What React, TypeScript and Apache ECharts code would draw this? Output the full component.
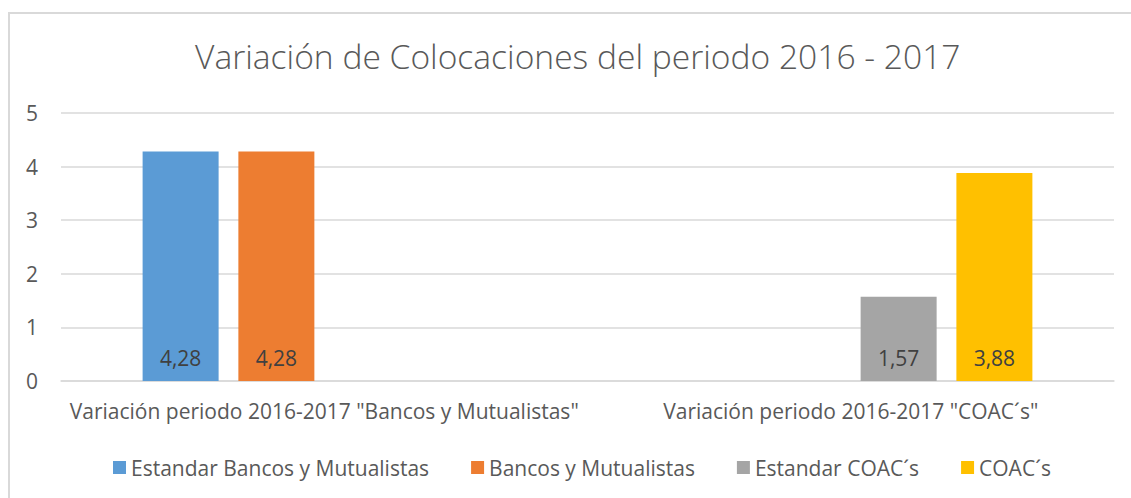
import React, { useEffect, useRef } from "react";
import * as echarts from "echarts";

const titleText = "Variación de Colocaciones del periodo 2016 - 2017";
const categories = [
  'Variación periodo 2016-2017 "Bancos y Mutualistas"',
  'Variación periodo 2016-2017 "COAC´s"',
];
const seriesNames = ["Estandar Bancos y Mutualistas", "Bancos y Mutualistas", "Estandar COAC´s", "COAC´s"];
const estandarBancos = [4.28, null];
const bancos = [4.28, null];
const estandarCoacs = [null, 1.57];
const coacs = [null, 3.88];
const colors = ["#5b9bd5", "#ed7d31", "#a5a5a5", "#ffc000"];

const FONT = "'Open Sans'";

export default function App() {
  const ref = useRef<HTMLDivElement>(null);
  useEffect(() => {
    if (!ref.current) return;
    const chart = echarts.init(ref.current, undefined, { renderer: "svg" });
    const datasets = [estandarBancos, bancos, estandarCoacs, coacs];
    chart.setOption({
      animation: false,
      backgroundColor: "#ffffff",
      textStyle: { fontFamily: FONT },
      title: {
        text: titleText,
        left: 190,
        top: 34,
        textStyle: { fontFamily: FONT, fontSize: 33.6, fontWeight: 300, color: "#595959" },
      },
      graphic: [
        {
          type: "rect",
          shape: { x: 9, y: 13, width: 1140, height: 500 },
          style: { fill: "none", stroke: "#d9d9d9", lineWidth: 2 },
          silent: true,
        },
      ],
      legend: {
        data: seriesNames,
        left: 108,
        top: 452,
        icon: "rect",
        itemWidth: 13,
        itemHeight: 13,
        itemGap: 42,
        textStyle: { fontFamily: FONT, fontSize: 21, color: "#595959" },
      },
      grid: { left: 61, right: 17, top: 113, bottom: 117, containLabel: false },
      xAxis: {
        type: "category",
        data: categories,
        axisLine: { lineStyle: { color: "#d9d9d9", width: 1.5 } },
        axisTick: { show: false },
        axisLabel: { fontFamily: FONT, fontSize: 21, color: "#595959", margin: 19, interval: 0 },
      },
      yAxis: {
        type: "value",
        min: 0,
        max: 5,
        interval: 1,
        axisLine: { show: false },
        axisTick: { show: false },
        splitLine: { lineStyle: { color: "#d9d9d9", width: 1.5 } },
        axisLabel: { fontFamily: FONT, fontSize: 21, color: "#595959", margin: 23 },
      },
      series: datasets.map((d, i) => ({
        name: seriesNames[i],
        type: "bar",
        data: d,
        barWidth: 76,
        barGap: "26%",
        itemStyle: { color: colors[i] },
        label: {
          show: true,
          position: "insideBottom",
          distance: 13,
          fontFamily: FONT,
          fontSize: 21,
          color: "#404040",
          formatter: (p: any) => (p.value == null ? "" : Number(p.value).toFixed(2).replace(".", ",")),
        },
      })),
    });
    return () => chart.dispose();
  }, []);
  return (
    <div
      ref={ref}
      style={{ position: "absolute", left: 0, top: 0, width: 1131, height: 498 }}
    />
  );
}
